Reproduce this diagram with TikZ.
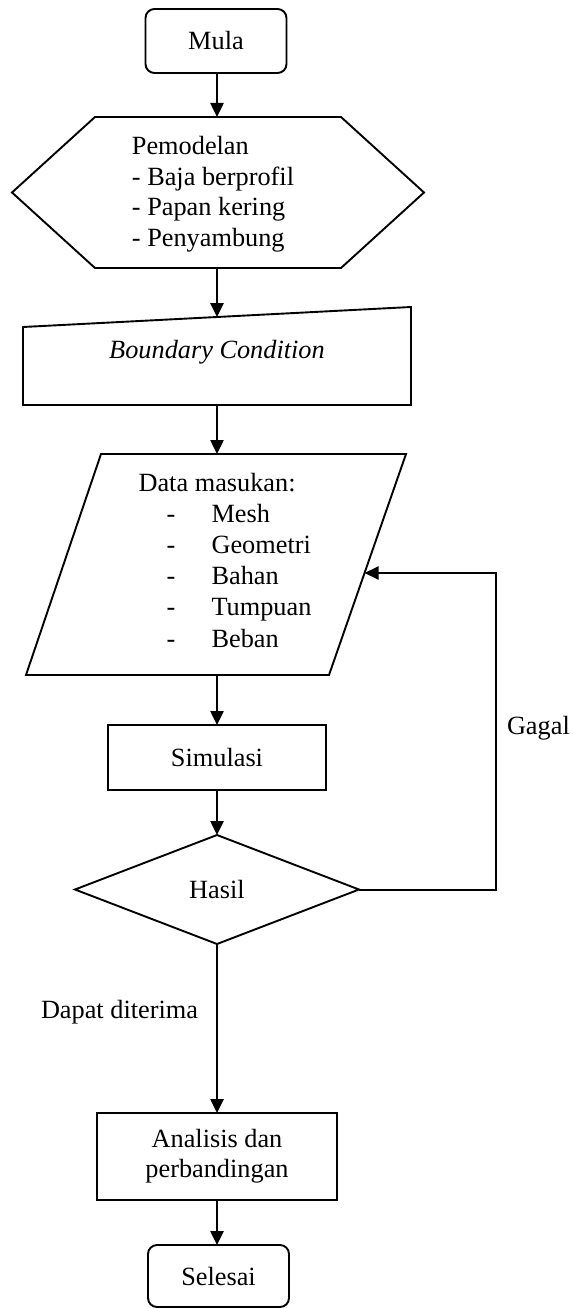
\documentclass[tikz,border=0pt]{standalone}
\usepackage{fontspec}
\setmainfont{Liberation Serif}
\usetikzlibrary{arrows.meta,shapes.geometric}
\begin{document}
\begin{tikzpicture}[x=1pt,y=-1pt,
  every node/.style={inner sep=0pt,outer sep=0pt},
  font=\fontsize{26.3}{30.5}\selectfont,
  outline/.style={draw,line width=1.9pt,line join=miter},
  flow/.style={line width=2.5pt,-{Triangle[width=13pt,length=14pt]}},
  loopflow/.style={line width=2pt,-{Triangle[width=13pt,length=14pt]}},
  termbox/.style={outline,rounded corners=9pt,minimum width=141pt,minimum height=64pt},
  procbox/.style={outline,align=center}]
\useasboundingbox (0,0) rectangle (573,1308);

% Start
\node[termbox] (mula) at (216,41) {Mula};

% Hexagon (preparation)
\draw[outline] (12,192.5) -- (95,117) -- (341,117) -- (424,192.5) -- (341,268) -- (95,268) -- cycle;
\coordinate (hexN) at (217,117);
\coordinate (hexS) at (217,268);
\node[align=left] (model) at (213,194) {Pemodelan\\- Baja berprofil\\- Papan kering\\- Penyambung};

% Manual input
\draw[outline] (23,327) -- (411,307) -- (411,405) -- (23,405) -- cycle;
\coordinate (bcN) at (217,317.1);
\coordinate (bcS) at (217,405);
\node (bc) at (217,352) {\itshape Boundary Condition};

% Parallelogram (data)
\draw[outline] (101,454) -- (406,454) -- (329,675) -- (26,675) -- cycle;
\coordinate (dataN) at (217,454);
\coordinate (dataS) at (217,675);
\coordinate (dataE) at (364.5,573);
\node[align=left,font=\fontsize{26.3}{31.2}\selectfont] (data) at (225,560)
  {Data masukan:\\\makebox[73pt][l]{\hspace*{28pt}-}Mesh\\\makebox[73pt][l]{\hspace*{28pt}-}Geometri\\\makebox[73pt][l]{\hspace*{28pt}-}Bahan\\\makebox[73pt][l]{\hspace*{28pt}-}Tumpuan\\\makebox[73pt][l]{\hspace*{28pt}-}Beban};

% Process
\node[procbox,minimum width=218pt,minimum height=65pt] (sim) at (217,757.5) {Simulasi};

% Decision
\node[outline,diamond,minimum width=284pt,minimum height=109pt] (hasil) at (217,889.5) {Hasil};

% Analysis
\node[procbox,minimum width=240pt,minimum height=87pt,font=\fontsize{26.3}{30}\selectfont] (anal) at (217,1156.5) {Analisis dan\\perbandingan};

% End
\node[termbox,minimum height=62pt] (selesai) at (218.5,1276) {Selesai};

% Connectors
\draw[flow] (hexN |- mula.south) -- (hexN);
\draw[flow] (hexS) -- (bcN);
\draw[flow] (bcS) -- (dataN);
\draw[flow] (dataS) -- (sim.north);
\draw[flow] (sim.south) -- (hasil.north);
\draw[flow] (hasil.south) -- (anal.north);
\draw[flow] (anal.south) -- (anal.south |- selesai.north);
\coordinate (loop) at (496,573);
\draw[loopflow] (hasil.east) -- (hasil.east -| loop) -- (loop) -- (dataE);

% Labels
\node[anchor=west] (gagal) at (507,728) {Gagal};
\node[anchor=west] (dapat) at (41,1012) {Dapat diterima};
\end{tikzpicture}
\end{document}
